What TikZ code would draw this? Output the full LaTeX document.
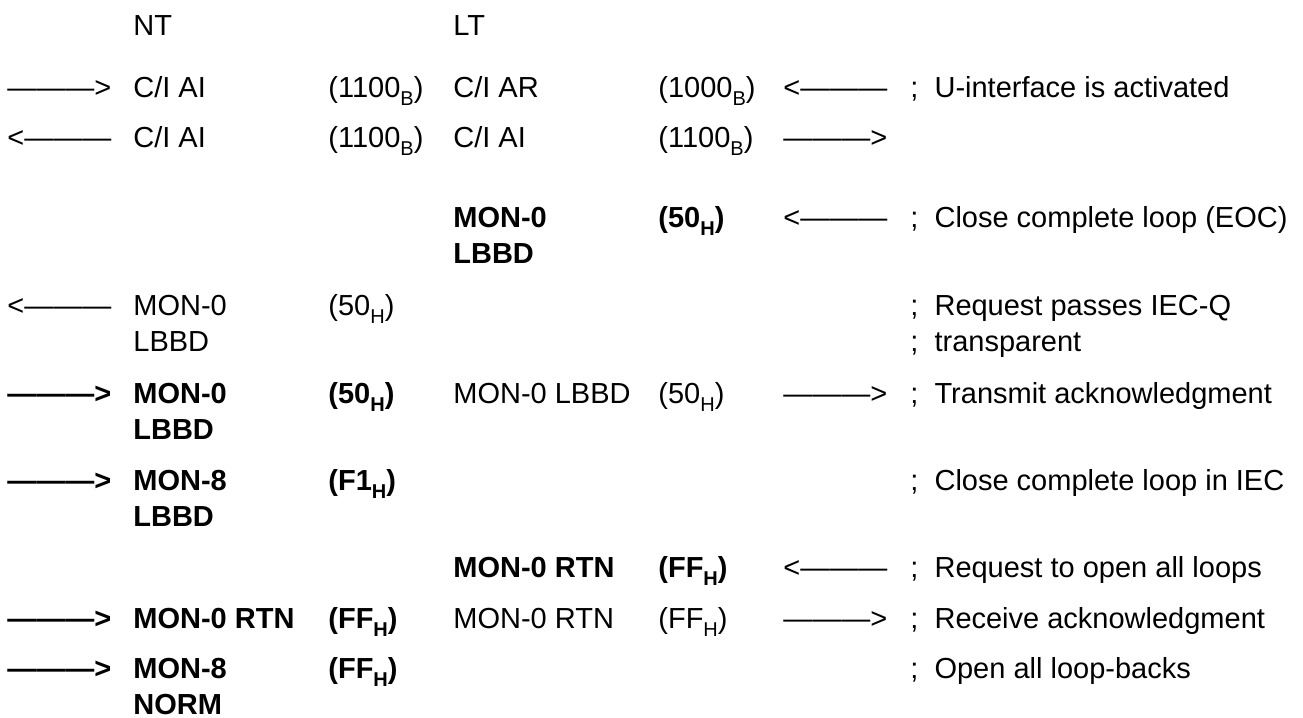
\documentclass[tikz,border=0pt]{standalone}
\usepackage{fontspec}
\setmainfont{Liberation Sans}
% lowered index letter, as in (50_H)
\newcommand{\lo}[1]{\raisebox{-0.3em}{\fontsize{10pt}{10pt}\selectfont #1}}
\newcommand{\toR}{———>}
\newcommand{\toL}{<———}
\begin{document}
\begin{tikzpicture}[x=0.5pt, y=-0.5pt,
    txt/.style={anchor=base west, inner sep=0pt, align=left,
                font=\fontsize{14.5pt}{18pt}\selectfont},
    hi/.style={txt, font=\fontsize{14.5pt}{18pt}\selectfont\bfseries},
    two/.style={yshift=-18pt}]
    \useasboundingbox (0,0) rectangle (1303,718);

    % 1. Columns: arrow NT, NT message, NT value, LT message, LT value, arrow LT, remark
    \path (7,0)   coordinate (cA)
          (133,0) coordinate (cN)
          (328,0) coordinate (cNv)
          (453,0) coordinate (cL)
          (658,0) coordinate (cLv)
          (783,0) coordinate (cB)
          (910,0) coordinate (cR);

    % 2. Rows (baselines)
    \path (0,35)  coordinate (r0)
          (0,97)  coordinate (r1)
          (0,147) coordinate (r2)
          (0,227) coordinate (r3)
          (0,315) coordinate (r4)
          (0,403) coordinate (r5)
          (0,490) coordinate (r6)
          (0,577) coordinate (r7)
          (0,628) coordinate (r8)
          (0,678) coordinate (r9);

    % 3. Header
    \node[txt] (hNT) at (cN |- r0) {NT};
    \node[txt] (hLT) at (cL |- r0) {LT};

    % 4. Activation
    \node[txt] (a1) at (cA |- r1) {\toR};
    \node[txt] (n1) at (cN |- r1) {C/I AI};
    \node[txt] (nv1) at (cNv |- r1) {(1100\lo{B})};
    \node[txt] (l1) at (cL |- r1) {C/I AR};
    \node[txt] (lv1) at (cLv |- r1) {(1000\lo{B})};
    \node[txt] (b1) at (cB |- r1) {\toL};
    \node[txt] (c1) at (cR |- r1) {;\ \ U-interface is activated};

    \node[txt] (a2) at (cA |- r2) {\toL};
    \node[txt] (n2) at (cN |- r2) {C/I AI};
    \node[txt] (nv2) at (cNv |- r2) {(1100\lo{B})};
    \node[txt] (l2) at (cL |- r2) {C/I AI};
    \node[txt] (lv2) at (cLv |- r2) {(1100\lo{B})};
    \node[txt] (b2) at (cB |- r2) {\toR};

    % 5. Close complete loop
    \node[hi, two] (l3) at (cL |- r3) {MON-0\\LBBD};
    \node[hi] (lv3) at (cLv |- r3) {(50\lo{H})};
    \node[txt] (b3) at (cB |- r3) {\toL};
    \node[txt] (c3) at (cR |- r3) {;\ \ Close complete loop (EOC)};

    \node[txt] (a4) at (cA |- r4) {\toL};
    \node[txt, two] (n4) at (cN |- r4) {MON-0\\LBBD};
    \node[txt] (nv4) at (cNv |- r4) {(50\lo{H})};
    \node[txt, two] (c4) at (cR |- r4) {;\ \ Request passes IEC-Q\\;\ \ transparent};

    \node[hi] (a5) at (cA |- r5) {\toR};
    \node[hi, two] (n5) at (cN |- r5) {MON-0\\LBBD};
    \node[hi] (nv5) at (cNv |- r5) {(50\lo{H})};
    \node[txt] (l5) at (cL |- r5) {MON-0 LBBD};
    \node[txt] (lv5) at (cLv |- r5) {(50\lo{H})};
    \node[txt] (b5) at (cB |- r5) {\toR};
    \node[txt] (c5) at (cR |- r5) {;\ \ Transmit acknowledgment};

    \node[hi] (a6) at (cA |- r6) {\toR};
    \node[hi, two] (n6) at (cN |- r6) {MON-8\\LBBD};
    \node[hi] (nv6) at (cNv |- r6) {(F1\lo{H})};
    \node[txt] (c6) at (cR |- r6) {;\ \ Close complete loop in IEC};

    % 6. Open all loops
    \node[hi] (l7) at (cL |- r7) {MON-0 RTN};
    \node[hi] (lv7) at (cLv |- r7) {(FF\lo{H})};
    \node[txt] (b7) at (cB |- r7) {\toL};
    \node[txt] (c7) at (cR |- r7) {;\ \ Request to open all loops};

    \node[hi] (a8) at (cA |- r8) {\toR};
    \node[hi] (n8) at (cN |- r8) {MON-0 RTN};
    \node[hi] (nv8) at (cNv |- r8) {(FF\lo{H})};
    \node[txt] (l8) at (cL |- r8) {MON-0 RTN};
    \node[txt] (lv8) at (cLv |- r8) {(FF\lo{H})};
    \node[txt] (b8) at (cB |- r8) {\toR};
    \node[txt] (c8) at (cR |- r8) {;\ \ Receive acknowledgment};

    \node[hi] (a9) at (cA |- r9) {\toR};
    \node[hi, two] (n9) at (cN |- r9) {MON-8\\NORM};
    \node[hi] (nv9) at (cNv |- r9) {(FF\lo{H})};
    \node[txt] (c9) at (cR |- r9) {;\ \ Open all loop-backs};
\end{tikzpicture}
\end{document}
